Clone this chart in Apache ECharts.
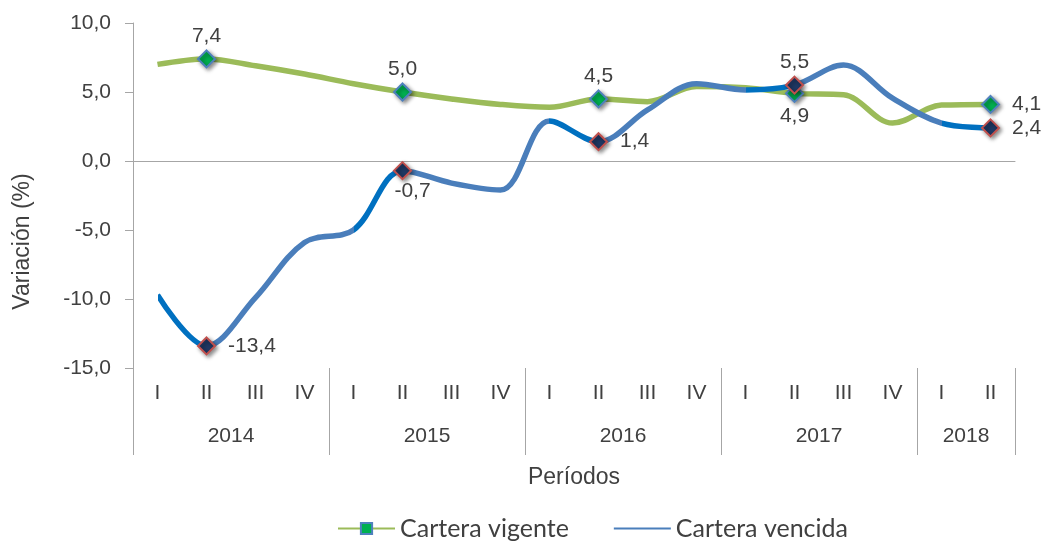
<!DOCTYPE html>
<html>
<head>
<meta charset="utf-8">
<script src="https://cdn.jsdelivr.net/npm/echarts@6/dist/echarts.min.js"></script>
<style>
  html, body { margin: 0; padding: 0; background: #fff; }
  #chart { width: 1050px; height: 543px; }
</style>
</head>
<body>
<div id="chart"></div>
<script>
  // periodos trimestrales
  var quarters = ['I', 'II', 'III', 'IV', 'I', 'II', 'III', 'IV', 'I', 'II', 'III', 'IV', 'I', 'II', 'III', 'IV', 'I', 'II']
  var years = ['2014', '2015', '2016', '2017', '2018']
  var quartersPerYear = [4, 4, 4, 4, 2]

  // variacion (%)
  var vigente = [7.0, 7.4, 6.9, 6.3, 5.6, 5.0, 4.5, 4.1, 3.9, 4.5, 4.3, 5.4, 5.3, 4.9, 4.8, 2.75, 4.05, 4.1]
  var vencida = [-9.7, -13.4, -9.9, -5.9, -5.0, -0.7, -1.6, -2.1, 2.9, 1.4, 3.7, 5.6, 5.15, 5.5, 6.95, 4.55, 2.75, 2.4]

  // puntos con etiqueta (trimestre II de cada año)
  var labeledIdx = [1, 5, 9, 13, 17]

  var fmt = function (v) { return v.toFixed(1).replace('.', ',') }
  var textColor = '#404040'
  var axisColor = '#A6A6A6'
  var font = '"Liberation Sans", Arial, sans-serif'
  var fontSize = 21
  var titleSize = 23

  // eje de años: 2 ranuras por trimestre, separadores al inicio de cada año
  var yearSlots = []
  var separators = []
  var start = 0
  for (var i = 0; i <= quarters.length * 2; i++) yearSlots.push('')
  years.forEach(function (y, k) {
    separators.push(start * 2)
    yearSlots[start * 2 + quartersPerYear[k]] = y
    start += quartersPerYear[k]
  })
  separators.push(start * 2)

  var vigentePos = {1: 'top', 5: 'top', 9: 'top', 13: 'bottom', 17: 'right'}
  var vencidaPos = {1: 'right', 5: 'bottom', 9: 'right', 13: 'top', 17: 'right'}

  function points (values, pos, fill, border) {
    return values.map(function (v, i) {
      if (labeledIdx.indexOf(i) < 0) return {value: v, symbol: 'none'}
      var p = pos[i]
      return {
        value: v,
        symbol: 'diamond',
        symbolSize: 17,
        itemStyle: {
          color: fill, borderColor: border, borderWidth: 2,
          shadowBlur: 4, shadowColor: 'rgba(0,0,0,0.45)', shadowOffsetX: 2, shadowOffsetY: 2
        },
        label: {
          show: true,
          position: p,
          distance: p === 'right' ? 12 : 3,
          offset: (p === 'bottom' && v < 0) ? [10, -2] : [0, 0],
          formatter: function (d) { return fmt(d.value) },
          fontFamily: font, fontSize: fontSize, color: textColor
        }
      }
    })
  }

  var dark = '#0070C0'
  var light = '#4A7EBB'

  var chart = echarts.init(document.getElementById('chart'))
  chart.setOption({
    animation: false,
    grid: {left: 133, right: 35, top: 23, bottom: 175},
    legend: {
      left: 332,
      top: 511,
      itemWidth: 57,
      itemHeight: 14,
      itemGap: 44,
      textStyle: {fontFamily: 'Lato', fontSize: 25, color: textColor},
      data: [
        {name: 'Cartera vigente'},
        {name: 'Cartera vencida', itemStyle: {color: 'rgba(0,0,0,0)', borderColor: 'rgba(0,0,0,0)', borderWidth: 0}}
      ]
    },
    visualMap: {
      show: false,
      type: 'piecewise',
      seriesIndex: 1,
      dimension: 0,
      pieces: [
        {gte: 0, lte: 1, color: dark},
        {gt: 1, lt: 4, color: light},
        {gte: 4, lte: 5, color: dark},
        {gt: 5, lt: 8, color: light},
        {gte: 8, lte: 9, color: dark},
        {gt: 9, lt: 12, color: light},
        {gte: 12, lte: 13, color: dark},
        {gt: 13, lt: 16, color: light},
        {gte: 16, lte: 17, color: dark}
      ]
    },
    xAxis: [
      {
        // linea del cero
        type: 'category',
        data: quarters,
        axisLine: {onZero: true, lineStyle: {color: axisColor, width: 1}},
        axisTick: {show: false},
        axisLabel: {show: false}
      },
      {
        type: 'category',
        data: quarters,
        position: 'bottom',
        axisLine: {show: false, onZero: false},
        axisTick: {show: false},
        axisLabel: {interval: 0, margin: 15, fontFamily: font, fontSize: fontSize, color: textColor}
      },
      {
        type: 'category',
        data: yearSlots,
        boundaryGap: false,
        position: 'bottom',
        axisLine: {show: false, onZero: false},
        axisTick: {
          show: true,
          length: 87,
          interval: function (idx) { return separators.indexOf(idx) >= 0 },
          lineStyle: {color: axisColor}
        },
        axisLabel: {interval: 0, margin: 58, fontFamily: font, fontSize: fontSize, color: textColor},
        name: 'Períodos',
        nameLocation: 'middle',
        nameGap: 98,
        nameTextStyle: {fontFamily: font, fontSize: titleSize, color: textColor}
      }
    ],
    yAxis: {
      type: 'value',
      min: -15,
      max: 10,
      interval: 5,
      splitLine: {show: false},
      axisLine: {show: true, lineStyle: {color: axisColor}},
      axisTick: {show: true, length: 8, lineStyle: {color: axisColor}},
      axisLabel: {margin: 22, fontFamily: font, fontSize: fontSize, color: textColor, formatter: fmt},
      name: 'Variación (%)',
      nameLocation: 'middle',
      nameRotate: 90,
      nameGap: 99,
      nameTextStyle: {fontFamily: font, fontSize: titleSize, color: textColor, padding: [0, 92, 0, 0]}
    },
    series: [
      {
        name: 'Cartera vigente',
        type: 'line',
        smooth: 0.35,
        symbol: 'rect',
        showAllSymbol: true,
        itemStyle: {color: '#00B050', borderColor: '#4F81BD', borderWidth: 1},
        lineStyle: {color: '#9BBB59', width: 5.5},
        data: points(vigente, vigentePos, '#00B050', '#4F81BD')
      },
      {
        name: 'Cartera vencida',
        type: 'line',
        smooth: 0.35,
        symbol: 'diamond',
        showAllSymbol: true,
        itemStyle: {color: light},
        lineStyle: {width: 5.5},
        data: points(vencida, vencidaPos, '#1F3864', '#C0504D')
      }
    ]
  })
</script>
</body>
</html>
